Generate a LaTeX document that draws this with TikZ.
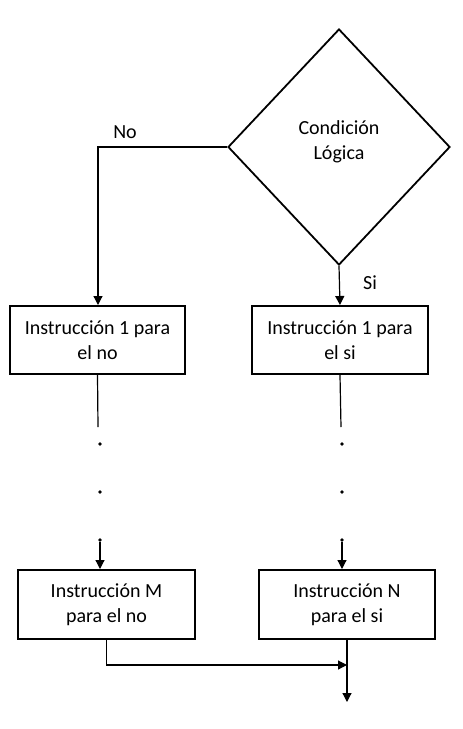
\documentclass[tikz,border=0pt]{standalone}
\usepackage{fontspec}
\setmainfont{Carlito}
\usetikzlibrary{shapes.geometric,arrows.meta}
\begin{document}
\begin{tikzpicture}[x=1pt,y=-1pt,
  every node/.style={font=\fontsize{20}{25}\selectfont},
  boxnode/.style={draw,line width=2pt,align=center,inner sep=0pt},
  conn/.style={line width=1.2pt},
  arr/.style={conn,-{Triangle[width=9pt,length=9pt]}},
  dotnode/.style={circle,fill,inner sep=0pt,minimum size=3.8pt}]
\useasboundingbox (0,0) rectangle (463,729);
\node[draw,diamond,line width=1.8pt,minimum width=222pt,minimum height=236pt,inner sep=0pt] (dia) at (339,147) {};
\node[align=center,inner sep=0pt] (cond) at (339,142) {Condición\\Lógica};
\node[boxnode,minimum width=175pt,minimum height=68pt] (b1) at (97.5,340) {Instrucción 1 para\\el no};
\node[boxnode,minimum width=176pt,minimum height=68pt] (b2) at (340,340) {Instrucción 1 para\\el si};
\node[boxnode,minimum width=177pt,minimum height=69pt] (b3) at (106.5,604.5) {Instrucción M\\para el no};
\node[boxnode,minimum width=176pt,minimum height=69pt] (b4) at (347,604.5) {Instrucción N\\para el si};
\node (no) at (125,132) {No};
\node (si) at (370,283) {Si};
\coordinate (lc) at (98,147);
\coordinate (l1) at (98,427);
\coordinate (r1) at (341,427);
\node[dotnode] (d1) at (100,444) {};
\node[dotnode] (d2) at (100,492) {};
\node[dotnode] (d3) at (100,540) {};
\node[dotnode] (d4) at (342,444) {};
\node[dotnode] (d5) at (342,492) {};
\node[dotnode] (d6) at (342,540) {};
\coordinate (j) at (347,665);
\coordinate (e) at (347,702);
\draw[arr] (dia.west) -- (lc) -- (lc |- b1.north);
\draw[arr] (dia.south) -- (b2.north);
\draw[conn] (b1.south) -- (l1);
\draw[conn] (b2.south) -- (r1);
\draw[arr] (d3) -- (d3 |- b3.north);
\draw[arr] (d6) -- (d6 |- b4.north);
\draw[arr] (b3.south) |- (j);
\draw[arr] (b4.south) -- (e);
\end{tikzpicture}
\end{document}
